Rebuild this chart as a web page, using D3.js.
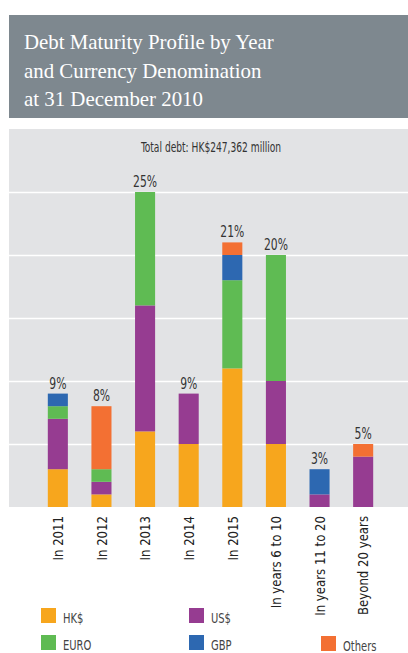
<!DOCTYPE html>
<html>
<head>
<meta charset="utf-8">
<script src="https://cdn.jsdelivr.net/npm/d3@7"></script>
<style>
  body { margin: 0; background: #fff; }
  svg { display: block; }
</style>
</head>
<body>
<script>
// chart data (percent of total debt)
var categories = ["In 2011", "In 2012", "In 2013", "In 2014", "In 2015", "In years 6 to 10", "In years 11 to 20", "Beyond 20 years"];
var hkd    = [3, 1, 6, 5, 11, 5, 0, 0];
var usd    = [4, 1, 10, 4, 0, 5, 1, 4];
var euro   = [1, 1, 9, 0, 7, 10, 0, 0];
var gbp    = [1, 0, 0, 0, 2, 0, 2, 0];
var others = [0, 5, 0, 0, 1, 0, 0, 1];
var shares = [9, 8, 25, 9, 21, 20, 3, 5];
var currencies = ["HK$", "US$", "EURO", "GBP", "Others"];
var colors = ["#f7a61d", "#963c91", "#5fbb53", "#2d68b1", "#f37033"];
var yTicks = [5, 10, 15, 20, 25];
var titleLines = ["Debt Maturity Profile by Year", "and Currency Denomination", "at 31 December 2010"];
var subtitle = "Total debt: HK$247,362 million";

var W = 408, H = 653;
var narrow = "'Liberation Sans Narrow', 'DejaVu Sans Condensed', 'Arial Narrow', sans-serif";

// squeeze text horizontally to mimic the condensed face of the original
function condense(sel, k) {
    sel.each(function() {
        var len = this.getComputedTextLength();
        d3.select(this)
            .attr("textLength", len * k)
            .attr("lengthAdjust", "spacingAndGlyphs");
    });
}

var svg = d3.select("body").append("svg")
    .attr("width", W)
    .attr("height", H);

// title block
svg.append("rect")
    .attr("x", 9).attr("y", 15)
    .attr("width", W - 9).attr("height", 103)
    .attr("fill", "#7e888f");

svg.selectAll(".title")
    .data(titleLines)
  .enter().append("text")
    .attr("class", "title")
    .attr("x", 24)
    .attr("y", function(d, i) { return 49 + i * 28.7; })
    .attr("fill", "#fff")
    .style("font-family", "'Liberation Serif', 'DejaVu Serif', serif")
    .style("font-size", "21.5px")
    .text(function(d) { return d; })
    .call(condense, 0.97);

// plot panel
var panel = {left: 9, right: W, top: 129, bottom: 507};
svg.append("rect")
    .attr("x", panel.left).attr("y", panel.top)
    .attr("width", panel.right - panel.left)
    .attr("height", panel.bottom - panel.top)
    .attr("fill", "#e2e3e5");

// scales
var x = d3.scaleBand()
    .domain(categories)
    .range([26, 395])
    .paddingInner(0.54)
    .paddingOuter(0.5);

var y = d3.scaleLinear()
    .domain([0, 25])
    .range([panel.bottom, 192]);

// gridlines
svg.append("g")
    .attr("transform", "translate(" + panel.left + ",0)")
    .call(d3.axisLeft(y).tickValues(yTicks).tickSize(-(panel.right - panel.left)).tickFormat(""))
    .call(function(g) { g.select(".domain").remove(); })
    .selectAll("line")
    .attr("stroke", "#fff")
    .attr("stroke-width", 1.6);

// stacked bars
var rows = categories.map(function(c, i) {
    return {cat: c, "HK$": hkd[i], "US$": usd[i], "EURO": euro[i], "GBP": gbp[i], "Others": others[i]};
});
var stacked = d3.stack().keys(currencies)(rows);

svg.append("g").selectAll("g")
    .data(stacked)
  .enter().append("g")
    .attr("fill", function(d, i) { return colors[i]; })
  .selectAll("rect")
    .data(function(d) { return d; })
  .enter().append("rect")
    .attr("x", function(d) { return x(d.data.cat); })
    .attr("y", function(d) { return y(d[1]); })
    .attr("width", x.bandwidth())
    .attr("height", function(d) { return y(d[0]) - y(d[1]); });

// percentage labels
svg.selectAll(".share")
    .data(categories)
  .enter().append("text")
    .attr("class", "share")
    .attr("x", function(d) { return x(d) + x.bandwidth() / 2; })
    .attr("y", function(d, i) { return y(shares[i]) - 5; })
    .attr("text-anchor", "middle")
    .attr("fill", "#333")
    .style("font-family", narrow)
    .style("font-size", "16px")
    .text(function(d, i) { return shares[i] + "%"; })
    .call(condense, 0.75);

// total debt caption
svg.append("text")
    .attr("x", 211)
    .attr("y", 152)
    .attr("text-anchor", "middle")
    .attr("fill", "#333")
    .style("font-family", narrow)
    .style("font-size", "13.5px")
    .text(subtitle)
    .call(condense, 0.75);

// x axis labels
var xAxis = svg.append("g")
    .attr("transform", "translate(0," + (panel.bottom + 9) + ")")
    .call(d3.axisBottom(x).tickSize(0).tickPadding(0));
xAxis.select(".domain").remove();
xAxis.selectAll("text")
    .attr("transform", "rotate(-90)")
    .attr("x", 0)
    .attr("y", 0)
    .attr("dx", 0)
    .attr("dy", "0.36em")
    .attr("text-anchor", "end")
    .attr("fill", "#222")
    .style("font-family", narrow)
    .style("font-size", "14.5px")
    .call(condense, 0.9);

// legend
var legendPos = [[41, 608], [189, 608], [41, 635], [189, 635], [321, 636]];
var legend = svg.selectAll(".legend")
    .data(currencies)
  .enter().append("g")
    .attr("class", "legend")
    .attr("transform", function(d, i) { return "translate(" + legendPos[i][0] + "," + legendPos[i][1] + ")"; });

legend.append("rect")
    .attr("width", 15)
    .attr("height", 15)
    .attr("fill", function(d, i) { return colors[i]; });

legend.append("text")
    .attr("x", 22)
    .attr("y", 15)
    .attr("fill", "#444")
    .style("font-family", narrow)
    .style("font-size", "13.5px")
    .text(function(d) { return d; })
    .call(condense, 0.82);
</script>
</body>
</html>
